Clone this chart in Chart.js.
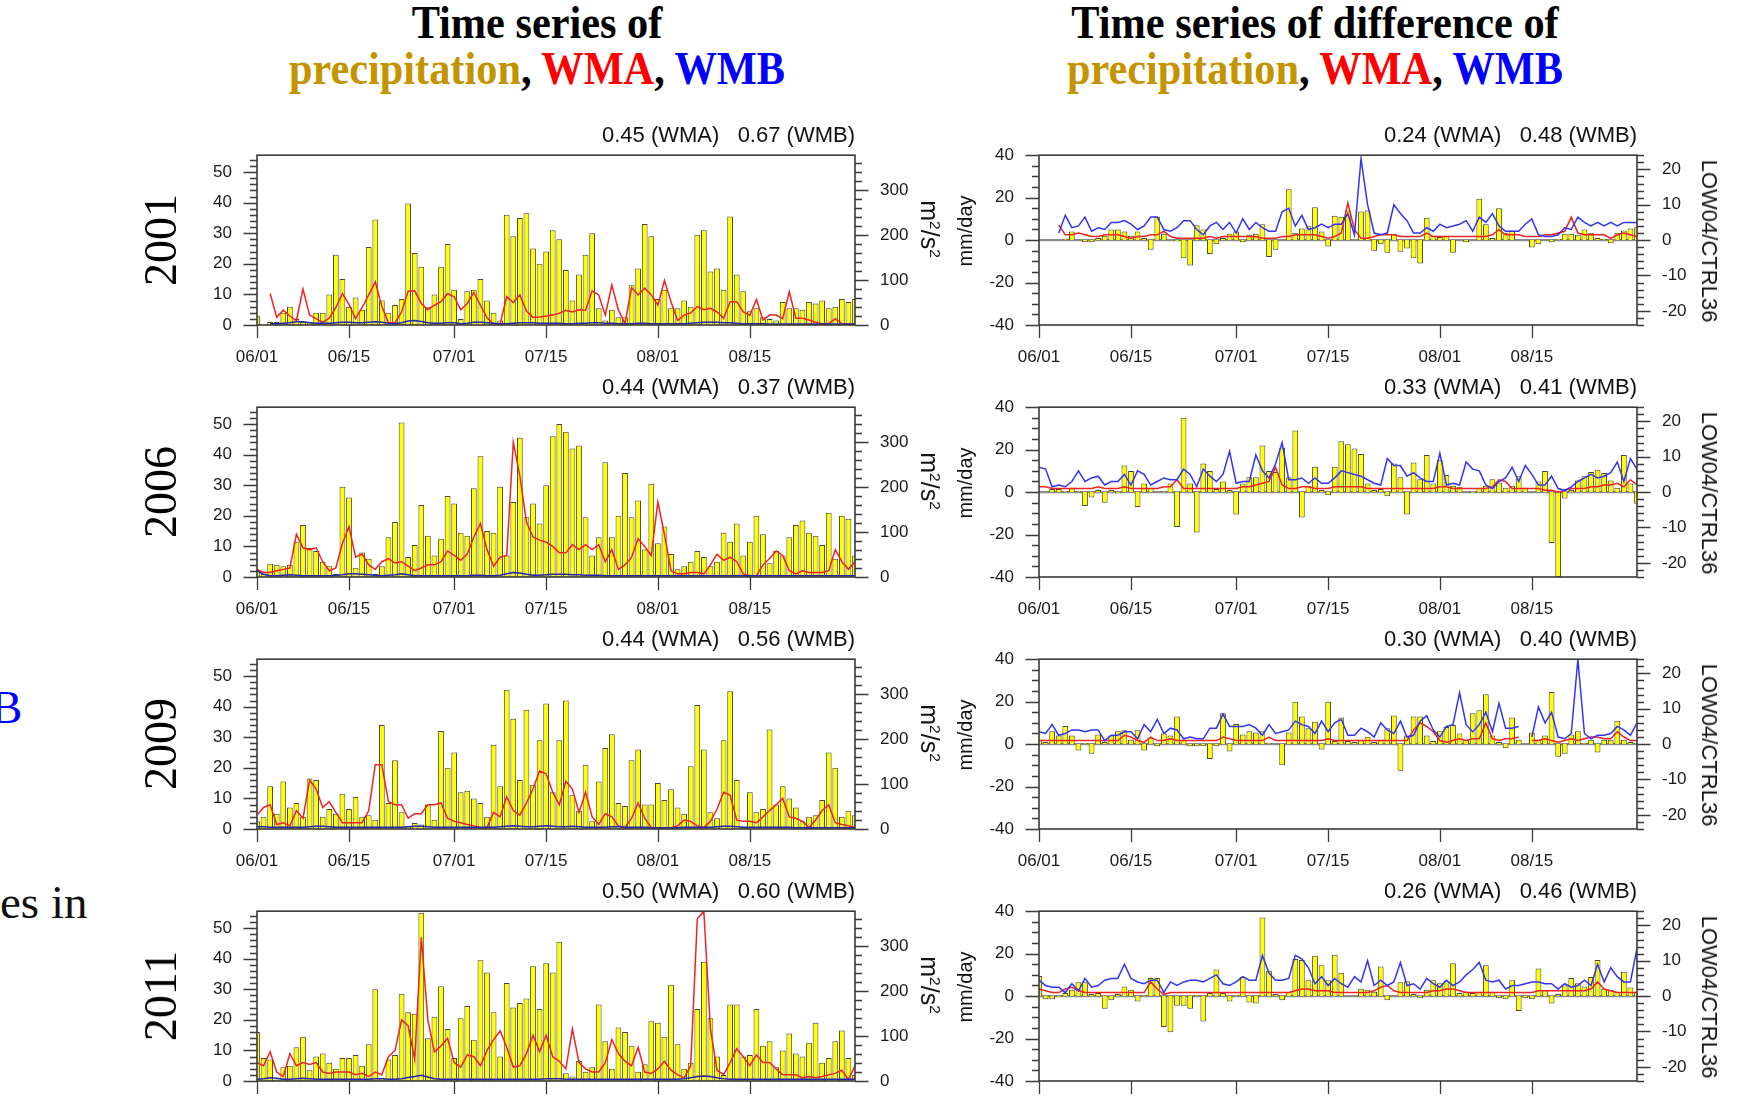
<!DOCTYPE html>
<html>
<head>
<meta charset="utf-8">
<title>Time series of precipitation, WMA, WMB</title>
<script src="https://cdn.jsdelivr.net/npm/chart.js@4.4.1/dist/chart.umd.min.js"></script>
<style>
  html, body { margin: 0; padding: 0; background: #fff; }
  body { width: 1742px; height: 1097px; position: relative; overflow: hidden;
         font-family: "Liberation Sans", Arial, Helvetica, sans-serif; color: #111; }
  canvas { position: absolute; }
  .lbl { position: absolute; white-space: pre; line-height: 1; }
  .title { font-family: "Liberation Serif", "Times New Roman", serif; font-weight: bold;
           font-size: 46px; transform: translateX(-50%) scaleX(0.92); color: #000; }
  .year { font-family: "Liberation Serif", "Times New Roman", serif; font-size: 46px;
          transform: translate(-50%, -50%) rotate(-90deg); color: #000; }
  .corr { font-size: 22px; transform: translateX(-100%); color: #111; }
  .ycw  { font-size: 22px; transform: translate(-50%, -50%) rotate(90deg); color: #111; }
  .units { font-size: 25px; }
  .yccw { font-size: 20px; transform: translate(-50%, -50%) rotate(-90deg); color: #111; }
  .frag { font-family: "Liberation Serif", "Times New Roman", serif; font-size: 47px; }
  .gold { color: #c49400; } .red { color: #ff0000; } .blue { color: #0000ff; }
  .sup { font-size: 62%; position: relative; top: -0.55em; }
</style>
</head>
<body>
<div class="lbl title" style="left:537px; top:0px;">Time series of</div>
<div class="lbl title" style="left:537px; top:46px;"><span class="gold">precipitation</span>, <span class="red">WMA</span>, <span class="blue">WMB</span></div>
<div class="lbl title" style="left:1315px; top:0px;">Time series of difference of</div>
<div class="lbl title" style="left:1315px; top:46px;"><span class="gold">precipitation</span>, <span class="red">WMA</span>, <span class="blue">WMB</span></div>
<div class="lbl frag blue" style="left:-9px; top:684px;">B</div>
<div class="lbl frag" style="left:0px; top:879px;">es in</div>

<script>
// ---- x axis: days from 06/01 to 08/31 ----
const DAY_TICKS = [0, 14, 30, 44, 61, 75];
const DAY_TICK_LABELS = ['06/01', '06/15', '07/01', '07/15', '08/01', '08/15'];
const YEARS = ['2001', '2006', '2009', '2011'];

// ---- axis tick values ----
const PRECIP_TICKS = [0, 10, 20, 30, 40, 50];
const WM_TICKS = [0, 100, 200, 300];
const DIFF_TICKS = [-40, -20, 0, 20, 40];
const RATIO_TICKS = [-20, -10, 0, 10, 20];

// ---- correlation numbers printed above each panel ----
const R_WMA_ABS  = ['0.45', '0.44', '0.44', '0.50'];
const R_WMB_ABS  = ['0.67', '0.37', '0.56', '0.60'];
const R_WMA_DIFF = ['0.24', '0.33', '0.30', '0.26'];
const R_WMB_DIFF = ['0.48', '0.41', '0.40', '0.46'];

// ---- daily precipitation (mm/day) ----
const PRECIP_2001 = [3,0,1,1,4,6,2,1,1,4, 4,10,23,15,6,9,5,25.5,34.5,8, 4,6.5,8.5,39.7,23.5,19,6,10,19,26.5,
  11.5,2,11,11.5,15,8,4,1.5,36,29, 35,36.5,25,20,24,31,28,18,8,16.5, 23,30,5.5,1.5,5,2.5,2.5,13,18.5,33,
  29,8.5,11.5,5.5,5.5,8,6,29.5,31,17.5, 18.5,11.5,35.5,16.5,11,4.5,5.5,2.5,2,1.5, 7.5,5.5,5.5,5,7.5,7,8,5.5,6,8.5, 7.5,8.5];
const PRECIP_2006 = [2,1,4.3,4,3.5,4,11.5,17,9.5,8.5, 5,3.5,1,29.5,26,3,8,6,1,3.5, 13,18,50.5,6.5,10.5,23.5,13.5,7,12.5,26.5,
  24,14.5,13.5,29,39.5,15,14.5,29.5,7,24.5, 45.5,19.5,24,17.5,30,46,50,47.5,42,43, 19.5,7,13,37.5,13,20,34,19.5,25,9,
  30.5,11,16.5,7.5,2.5,3.5,5,8.5,6.5,3.5, 5,14.5,11.5,17.5,7,11.5,20,14,4.5,8.5, 7,13,17,18.5,14.5,13.5,10.5,21,6,20, 19,7];
const PRECIP_2009 = [2.5,4,14,5,15.5,7,8.5,4,16.5,16, 4,6.5,5,11.5,6.5,10.5,4,4.5,3,34, 8.5,22.5,5.5,1,2,1.5,8,3,32,20,
  25,12,12.5,10,8.5,4,27.5,14,45.5,36, 16,39,14.5,29,41,12,29,42,11,6, 21,2.5,15.5,26.5,31,8.5,7.5,22.5,26,8,
  8,15,9.5,13,7,5,20.5,40.5,26,5.5, 3.5,29,45,16,0.5,12,5.5,6.5,32.5,8, 14,10,7,2.5,4,4.5,9.5,25,20,4, 6,4.5];
const PRECIP_2011 = [16,7.5,7,0.5,4.5,5,11,14.5,3.5,8, 9,6,4,7.5,7.5,8.5,5,12,30,1, 7,8.5,28.5,22.5,22,55,14,21,31,17,
  7.5,20.5,24.5,13.5,39.5,35.5,22.5,8,32,24, 25.5,27,37.5,23.5,38.5,35.5,45.5,2.5,1.5,6.5, 3,4.5,25,13,4,17.5,16,11.5,3,5.5,
  19.5,19,14.5,31.5,12,4,6,23.5,39,20.5, 8,2,25,25,8,8.5,23.5,11.5,13,4.5, 10,15.5,9,8,12.5,19,6,7.5,13,16.5, 7.5,2];

// ---- WMA / WMB (m2/s2) ----
const WMA_2001 = [null,null,70,17,33,20,10,80,22,14, 6,15,39,70,46,14,39,67,96,41, 5,5,29,75,76,48,34,44,52,70,
  63,34,48,73,44,16,2,3,63,50, 67,31,17,18,20,22,26,33,29,34, 33,76,67,22,89,33,3,83,67,82,
  67,44,99,52,10,22,27,41,34,37, 29,15,52,52,29,22,57,11,22,22, 14,74,15,15,11,6,3,3,14,3, 2,2];
const WMB_2001 = [null,null,3,3,4,5,7,7,5,4, 4,4,5,6,6,5,5,6,7,6, 4,3,5,9,10,8,5,4,4,5,
  5,3,4,6,6,5,4,3,3,4, 5,5,5,4,4,4,4,3,3,4, 4,5,5,4,4,3,3,3,4,4,
  3,3,3,3,3,3,4,5,6,6, 6,5,5,4,3,3,3,3,2,2, 2,2,2,2,2,2,2,2,2,2, 2,2];
const WMA_2006 = [17,10,10,14,17,20,95,65,61,65, 34,14,20,75,112,44,51,27,17,34, 41,31,34,24,14,20,27,27,34,58,
  48,37,51,89,119,61,24,44,48,300, 225,123,89,82,78,68,54,54,72,61, 72,61,72,34,61,17,27,44,85,68,
  48,167,95,14,7,7,10,10,7,27, 51,37,44,34,7,3,3,27,41,58, 48,14,7,14,10,10,10,14,61,34, 17,34];
const WMB_2006 = [14,6,3,3,4,5,4,3,3,3, 3,3,4,5,7,7,6,5,4,3, 4,5,7,5,3,3,3,3,3,3,
  3,3,3,4,4,3,3,4,7,10, 9,6,4,4,5,6,6,6,5,5, 4,4,4,3,3,3,3,3,3,3,
  3,3,3,3,3,3,3,3,3,3, 3,3,3,3,3,3,3,3,3,3, 3,3,3,3,3,3,3,3,3,3, 3,3];
const WMA_2009 = [31,48,54,10,14,7,41,24,109,89, 48,61,37,14,14,14,14,41,143,143, 61,54,54,24,34,34,54,54,58,24,
  17,14,10,7,3,3,37,27,72,41, 31,58,89,129,123,82,54,106,89,37, 82,27,10,34,27,7,3,24,58,24,
  3,3,3,3,7,20,17,7,3,17, 44,82,75,20,17,17,14,27,41,54, 68,27,24,17,3,20,41,54,14,10, 7,3];
const WMB_2009 = [5,5,4,4,4,4,4,4,5,6, 6,5,4,4,4,4,4,4,4,4, 4,4,4,5,6,6,5,4,4,4,
  4,4,4,4,4,4,4,5,6,7, 6,5,5,6,7,6,5,5,6,5, 4,4,4,4,5,5,4,4,4,4,
  3,3,3,3,3,4,4,4,4,4, 5,6,6,5,4,4,4,4,4,4, 4,4,3,3,3,3,3,3,3,3, 3,3];
const WMA_2011 = [41,34,65,20,10,61,34,41,37,41, 20,17,20,20,20,14,17,10,20,14, 54,68,136,123,48,320,136,65,78,95,
  41,31,58,54,34,68,92,112,75,31, 34,61,102,65,102,54,44,27,116,41, 27,20,20,41,92,61,44,34,75,20,
  17,27,44,24,14,7,34,361,378,116, 24,14,41,72,54,34,58,41,41,27, 14,14,14,7,10,7,10,14,17,24, 3,34];
const WMB_2011 = [4,5,7,6,4,4,5,6,5,4, 4,4,4,4,4,4,4,4,5,5, 4,4,5,8,10,13,9,5,4,4,
  4,4,4,4,4,4,4,4,4,4, 4,4,4,4,5,5,5,4,4,4, 4,4,4,4,4,4,4,4,4,4,
  4,4,4,4,4,5,7,10,11,10, 7,5,4,4,4,4,4,4,4,4, 4,4,4,4,4,4,4,4,4,4, 4,4];

// ---- LOW04 - CTRL36 precipitation difference (mm/day) ----
const DIFF_2001 = [null,null,null,0,0.5,4,0,-1,-1,1, 2,5,5,4,2,4,1,-4.5,11,3, 0,-0.5,-8.5,-12,7,5,-6.5,-2,1,3,
  4,-1,2.5,3,7.5,-8,-4.5,0,24,3.5, 5.5,6.5,15.5,4,-3,11.5,11,14,0,13.5, 14,-5,-2,-6,3,-5.5,-4,-8.5,-11,10.5,
  2,1.5,2,-6,0,-1,0,19.5,7.5,1, 15,3.5,4.5,0,0,-3.5,-2,0,-1,0.5, 3,3,2.5,5,3.5,1,0.5,-1.5,3.5,4.5, 5.5,6];
const DIFF_2006 = [0,0,1.5,1.5,0.5,2,0.5,-6.5,-2.5,1, -5,1,-0.5,12.5,10,-7,4,2,0,0.5, 4,-16.5,35,4,-19,13.5,10,1.5,5,1,
  -10.5,4,7,7,22,10,9.5,21,7,29, -12,3,12,1,-1.5,12,24,22.5,20.5,18, 4,1,1.5,-2,13.5,7,-10.5,14,6,17.5,
  4,15,8,3,2.5,0,-0.5,2,3,6, 4.5,2,3,7.5,2,0,5,10,-24,-40, -3,1,5.5,7.5,9.5,10.5,9,5.5,2,17.5, 4,-5.5];
const DIFF_2009 = [2,1,6,4,8.5,4,-3,0.5,-4.5,4.5, 1,4,6,6.5,2,6.5,-3,3,-1,5, 4,13,2,-1,-1,-1,-7,-1,14.5,-3.5,
  9.5,4.5,6,5.5,6,0.5,0,-10,5.5,20, 13,7.5,10.5,-2.5,20,1.5,12.5,1.5,1,2, 3.5,1,2,7.5,13.5,-12.5,4,13,13,4,
  1.5,6,8,9,5,2,14.5,16,23.5,4, 1,-2,12.5,2,null,5.5,2,4,24.5,-6, -4.5,4.5,6,0.5,2,-4,2,2,11,2, 1,0.5];
const DIFF_2011 = [9.5,-1.5,-1.5,-0.5,1.5,3,6.5,6.5,1,1.5, -6,-2,1,4.5,3,-2.5,0.5,8.5,8.5,-14.5, -17,-4.5,-4.5,-6,0.5,-12,1.5,12.5,1.5,-2.5,
  0.5,9,-3,-3.5,37,12,1,-2,2,17.5, 17,7.5,19,14.5,7.5,19.5,11,0,0,3.5, 3,2,14,-2,0,6.5,7,1,-1,3,
  7.5,6,7,15.5,1.5,2,1.5,2,14.5,2, -1,-1.5,7.5,-7,-1,-1.5,13,3,-3.5,1, 5,8.5,6,4.5,9,17,3.5,3,2,11.5, 4,2];

// ---- LOW04/CTRL36 ratios ----
const WMA_RATIO_2001 = [null,null,null,4.3,1.5,1.5,2,1.5,1,1, 1.5,1.5,1.5,1,0.5,1,1,1.5,1.5,2.5, 1,0.5,0.5,0.5,0.5,0.5,1,0.5,1,1,
  1,1,1,1,0.5,0.5,0.5,1,1,1.5, 1.5,1.5,1.5,1,0.5,1,2,10.5,3,0.5, 0.5,1,1.5,1.5,1.5,1,1,1,1,2,
  1,1,1,1,1,1,1,1,1,1.5, 3,1.5,1.5,1.5,1,1,1,1.5,1.5,2, 2.5,6.5,2,1.5,1.5,1.5,1.5,0.5,1.5,2, 1.5,1];
const WMB_RATIO_2001 = [null,null,null,2,7,3.5,4,6.5,2.5,3.5, 3,5,5,5.5,4.5,3,4,6.5,6.5,3, 2.5,3.5,5.5,5.5,3,1.5,4,5,3,5,
  2,6,3,5,3.5,2.5,2.5,8,9,4, 7,3,3.5,4.5,3.5,4.5,4.5,7.5,1.5,23, 10,2,1.5,2,10,7.5,5.5,2,2,3.5,
  2.5,4.5,3.5,4,4.5,5.5,2.5,6.5,5,7.5, 4,2.5,2.5,2.5,4.5,6,1.5,1,1,1.5, 3.5,3,6.5,5,4,5,4,5,4,5, 5,5];
const WMA_RATIO_2006 = [1.5,1.5,1,1,1,1,1,1,1,1.5, 1,1,1,1.5,1,1,1,1,1,1.5, 1.5,3.5,1,1,1,1,1,1,1,1,
  1,1.5,1.5,2,2.5,3,7,2,1,1, 1.5,1.5,1,1,1,1.5,1.5,1.5,1.5,1.5, 1,1,1,1,1,1,1,1,1,1,
  1,1.5,1.5,1,1,1,1,1,1,1.5, 3.5,3,1,1,1,1,1,0.5,0.5,0, 0.5,1,1,1,1.5,1.5,2,2,2.5,1.5, 3.5,2];
const WMB_RATIO_2006 = [7,6.5,1.5,2,1.5,3,6,3,4,4.5, 2,3,3,5,2,6,5,2,3,4, 3.5,3.5,6.5,5,1.5,6.5,4.5,3,5,11.5,
  2.5,3,3,10.5,6,4,8,14,3.5,3.5, 4,2.5,4,2.5,2.5,4,6,5.5,5,4.5, 3.5,2.5,2,9.5,7.5,7.5,4.5,5.5,4,3,
  3,11,2,2.5,2,8.5,6.5,6,2,1, 3,4,7,3,7.5,5,2,2,4.5,1, 0.5,1.5,3,4,5,4,4.5,5.5,8.5,3, 9.5,6.5];
const WMA_RATIO_2009 = [1,1,1,1,1,1,1,1,1,1, 1,1,1,2.5,2,1,0.5,2,1,1, 1.5,1,1,1,1,1,1,1,2,1.5,
  1,1,1,1,1,2,1,1,1,1, 1,1,1,1,1.5,1,1,1,1,1, 1,1,1,1,1,1,1,4,6,5,
  3.5,1,0.5,1,1.5,1,1.5,1.5,6,1.5, 1,1.5,1.5,2,null,1,1,1.5,1,0.5, 1,1.5,1,1.5,2,2,1.5,1.5,3.5,2, 1,1];
const WMB_RATIO_2009 = [3.5,3,5.5,2.5,3,4,4,3.5,4,4, 1,2.5,2.5,3.5,3.5,1.5,5.5,3.5,7,3, 4.5,4,1.5,2,1.5,1.5,4.5,4.5,8.5,5,
  5,5,5.5,4.5,2.5,5.5,3,3.5,4,6.5, 5.5,5,3,6.5,3.5,6,7,2.5,2.5,4.5, 3.5,2,6,4,3,6.5,2,2.5,6.5,8,
  4,2,5,5.5,14.5,5.5,3.5,5.5,9,3.5, 11.5,4.5,4.5,5,null,2,10.5,6,9,2, 1.5,3,24,3,1.5,2.5,2.5,3,5,4, 2.5,6];
const WMA_RATIO_2011 = [2,1.5,1,1,2,2.5,1.5,1,1,1, 1,1,1,1,1,1,1,4,2,0.5, 1,1,1,1,1,1,1,1,1,1,
  1,1,1,1,1,1,1,1,1,1.5, 2,2,1.5,1.5,1.5,1,1,1,1,1, 1,1.5,2.5,3,1.5,1,1,1,1,1,
  1.5,1.5,2,2,1.5,1,1,1,1,1, 1,1,1,1,1,1,1.5,1.5,1.5,1.5, 1.5,1.5,1.5,1.5,2,4,2,1.5,1,1, 1,1];
const WMB_RATIO_2011 = [4.5,3,2.5,2.5,1,3.5,1.5,5,2.5,3, 4.5,5,5,9,5,4,3.5,4.5,4.5,1, 4,3,4,4.5,4.5,4,5,6,3.5,3,
  4,5.5,4.5,4.5,11.5,6.5,4.5,4.5,5,11.5, 10.5,8,3.5,5.5,3,5,3.5,2.5,5.5,4, 10,3,4.5,3,4,9.5,3,3.5,2,5,
  3.5,2.5,4.5,3,4,6,7.5,9.5,4.5,4, 4.5,2,3,3,3.5,4,4,3.5,3.5,2, 3.5,2.5,3,4.5,3,9,4,8,5.5,4, 4,13.5];

// ---- page layout ----
const ROW_TOP = [155, 407, 659, 911];
const PLOT_W = 598, PLOT_H = 170;
const ABS_LEFT = 257, DIFF_LEFT = 1039;
const AXIS_L = 80, AXIS_R = 92, PAD_TOP = 12, AXIS_B = 50;
const FRAME = '#3a3a3a', TEXT = '#1a1a1a';

Chart.defaults.font.family = '"Liberation Sans", Arial, Helvetica, sans-serif';
Chart.defaults.color = TEXT;

const asPoints = arr => arr.map((v, i) => ({ x: i, y: v }));

function addLabel(cls, html, left, top) {
  const d = document.createElement('div');
  d.className = 'lbl ' + cls;
  d.innerHTML = html;
  d.style.left = left + 'px';
  d.style.top = top + 'px';
  document.body.appendChild(d);
}

// frame, outward tick marks and (optionally) a zero line
const framePlugin = {
  id: 'ncFrame',
  beforeDatasetsDraw(chart, args, o) {
    if (!o.zeroLine) return;
    const { ctx, chartArea: a, scales } = chart;
    const y = scales.y.getPixelForValue(0);
    ctx.save();
    ctx.strokeStyle = '#8c8c8c';
    ctx.lineWidth = 2.2;
    ctx.beginPath(); ctx.moveTo(a.left, y); ctx.lineTo(a.right, y); ctx.stroke();
    ctx.restore();
  },
  afterDraw(chart, args, o) {
    const { ctx, chartArea: a, scales } = chart;
    ctx.save();
    ctx.strokeStyle = FRAME;
    ctx.lineWidth = 1.3;
    ctx.beginPath();
    const yTicks = (scale, edge, dir, majors, step) => {
      const start = Math.ceil((scale.min - 1e-9) / step) * step;
      for (let v = start; v <= scale.max + 1e-9; v += step) {
        const major = majors.some(m => Math.abs(m - v) < 1e-6);
        const len = major ? 13.5 : 7;
        const y = Math.round(scale.getPixelForValue(v)) + 0.5;
        ctx.moveTo(edge, y); ctx.lineTo(edge + dir * len, y);
      }
    };
    yTicks(scales.y, a.left, -1, o.yMajor, o.yStep);
    yTicks(scales.y2, a.right, 1, o.y2Major, o.y2Step);
    DAY_TICKS.forEach(d => {
      const x = Math.round(scales.x.getPixelForValue(d)) + 0.5;
      ctx.moveTo(x, a.bottom); ctx.lineTo(x, a.bottom + 13);
    });
    ctx.stroke();
    ctx.lineWidth = 1.6;
    ctx.strokeRect(a.left, a.top, a.right - a.left, a.bottom - a.top);
    ctx.restore();
  }
};

function buildPanel(p) {
  const cv = document.createElement('canvas');
  let cw = AXIS_L + PLOT_W + AXIS_R, ch = PAD_TOP + PLOT_H + AXIS_B;
  cv.width = cw; cv.height = ch;
  cv.style.width = cw + 'px'; cv.style.height = ch + 'px';
  cv.style.left = (p.plotLeft - AXIS_L) + 'px';
  cv.style.top = (p.plotTop - PAD_TOP) + 'px';
  document.body.appendChild(cv);

  const tickFont = { size: 17 };
  const chart = new Chart(cv, {
    type: 'bar',
    data: {
      datasets: [
        { type: 'line', label: 'WMB', data: asPoints(p.wmb), yAxisID: 'y2', borderColor: p.blue,
          borderWidth: 1.5, pointRadius: 0, tension: 0, spanGaps: false, order: 1, clip: 0 },
        { type: 'line', label: 'WMA', data: asPoints(p.wma), yAxisID: 'y2', borderColor: '#f02222',
          borderWidth: 1.5, pointRadius: 0, tension: 0, spanGaps: false, order: 2, clip: 0 },
        { type: 'bar', label: 'precipitation', data: asPoints(p.bars), yAxisID: 'y',
          backgroundColor: '#ffff00', borderColor: '#46462e', borderWidth: 1,
          barPercentage: 0.88, categoryPercentage: 1, order: 3, clip: 0 }
      ]
    },
    options: {
      responsive: false, maintainAspectRatio: false, animation: false, devicePixelRatio: 1,
      events: [],
      layout: { autoPadding: false, padding: { top: PAD_TOP, left: 0, right: 0, bottom: 0 } },
      plugins: {
        legend: { display: false }, tooltip: { enabled: false },
        ncFrame: { zeroLine: p.zeroLine, yMajor: p.yTicks, yStep: p.yStep, y2Major: p.y2Ticks, y2Step: p.y2Step }
      },
      scales: {
        x: {
          type: 'linear', position: 'bottom', min: 0, max: 91, offset: false,
          afterBuildTicks: s => { s.ticks = DAY_TICKS.map(v => ({ value: v })); },
          afterFit: s => { s.height = AXIS_B; },
          ticks: { autoSkip: false, maxRotation: 0, padding: 22, font: tickFont, color: TEXT,
                   callback: v => DAY_TICK_LABELS[DAY_TICKS.indexOf(v)] },
          grid: { display: false, drawTicks: false }, border: { display: false }
        },
        y: {
          type: 'linear', position: 'left', min: p.yMin, max: p.yMax,
          afterBuildTicks: s => { s.ticks = p.yTicks.map(v => ({ value: v })); },
          afterFit: s => { s.width = AXIS_L; },
          ticks: { padding: 25, font: tickFont, color: TEXT },
          grid: { display: false, drawTicks: false }, border: { display: false }
        },
        y2: {
          type: 'linear', position: 'right', min: p.y2Min, max: p.y2Max,
          afterBuildTicks: s => { s.ticks = p.y2Ticks.map(v => ({ value: v })); },
          afterFit: s => { s.width = AXIS_R; },
          ticks: { padding: 25, font: tickFont, color: TEXT },
          grid: { display: false, drawTicks: false }, border: { display: false }
        }
      }
    },
    plugins: [framePlugin]
  });

  // make the plotting area exactly PLOT_W x PLOT_H and place it at (plotLeft, plotTop)
  for (let k = 0; k < 4; k++) {
    const a = chart.chartArea;
    const dh = PLOT_H - (a.bottom - a.top), dw = PLOT_W - (a.right - a.left);
    if (Math.abs(dh) < 0.5 && Math.abs(dw) < 0.5) break;
    cw = Math.round(cw + dw); ch = Math.round(ch + dh);
    chart.resize(cw, ch);
  }
  const a = chart.chartArea;
  cv.style.left = (p.plotLeft - a.left) + 'px';
  cv.style.top = (p.plotTop - a.top) + 'px';
}

const ABS_SERIES = [
  [PRECIP_2001, WMA_2001, WMB_2001], [PRECIP_2006, WMA_2006, WMB_2006],
  [PRECIP_2009, WMA_2009, WMB_2009], [PRECIP_2011, WMA_2011, WMB_2011]
];
const DIFF_SERIES = [
  [DIFF_2001, WMA_RATIO_2001, WMB_RATIO_2001], [DIFF_2006, WMA_RATIO_2006, WMB_RATIO_2006],
  [DIFF_2009, WMA_RATIO_2009, WMB_RATIO_2009], [DIFF_2011, WMA_RATIO_2011, WMB_RATIO_2011]
];

YEARS.forEach((yr, r) => {
  const top = ROW_TOP[r];
  const [pr, wa, wb] = ABS_SERIES[r];
  buildPanel({ plotLeft: ABS_LEFT, plotTop: top, bars: pr, wma: wa, wmb: wb, blue: '#2424b4',
    yMin: 0, yMax: 55.5, yTicks: PRECIP_TICKS, yStep: 2,
    y2Min: 0, y2Max: 378, y2Ticks: WM_TICKS, y2Step: 20, zeroLine: false });
  const [df, ra, rb] = DIFF_SERIES[r];
  buildPanel({ plotLeft: DIFF_LEFT, plotTop: top, bars: df, wma: ra, wmb: rb, blue: '#3434f0',
    yMin: -40, yMax: 40, yTicks: DIFF_TICKS, yStep: 5,
    y2Min: -24, y2Max: 24, y2Ticks: RATIO_TICKS, y2Step: 2, zeroLine: true });

  addLabel('year', yr, 161, top + 85);
  addLabel('corr', R_WMA_ABS[r] + ' (WMA)   ' + R_WMB_ABS[r] + ' (WMB)', ABS_LEFT + PLOT_W, top - 31);
  addLabel('corr', R_WMA_DIFF[r] + ' (WMA)   ' + R_WMB_DIFF[r] + ' (WMB)', DIFF_LEFT + PLOT_W, top - 31);
  addLabel('ycw units', 'm<span class="sup">2</span>/s<span class="sup">2</span>', 929, top + 74);
  addLabel('yccw', 'mm/day', 965, top + 76);
  addLabel('ycw', 'LOW04/CTRL36', 1709, top + 86);
});
</script>
</body>
</html>
